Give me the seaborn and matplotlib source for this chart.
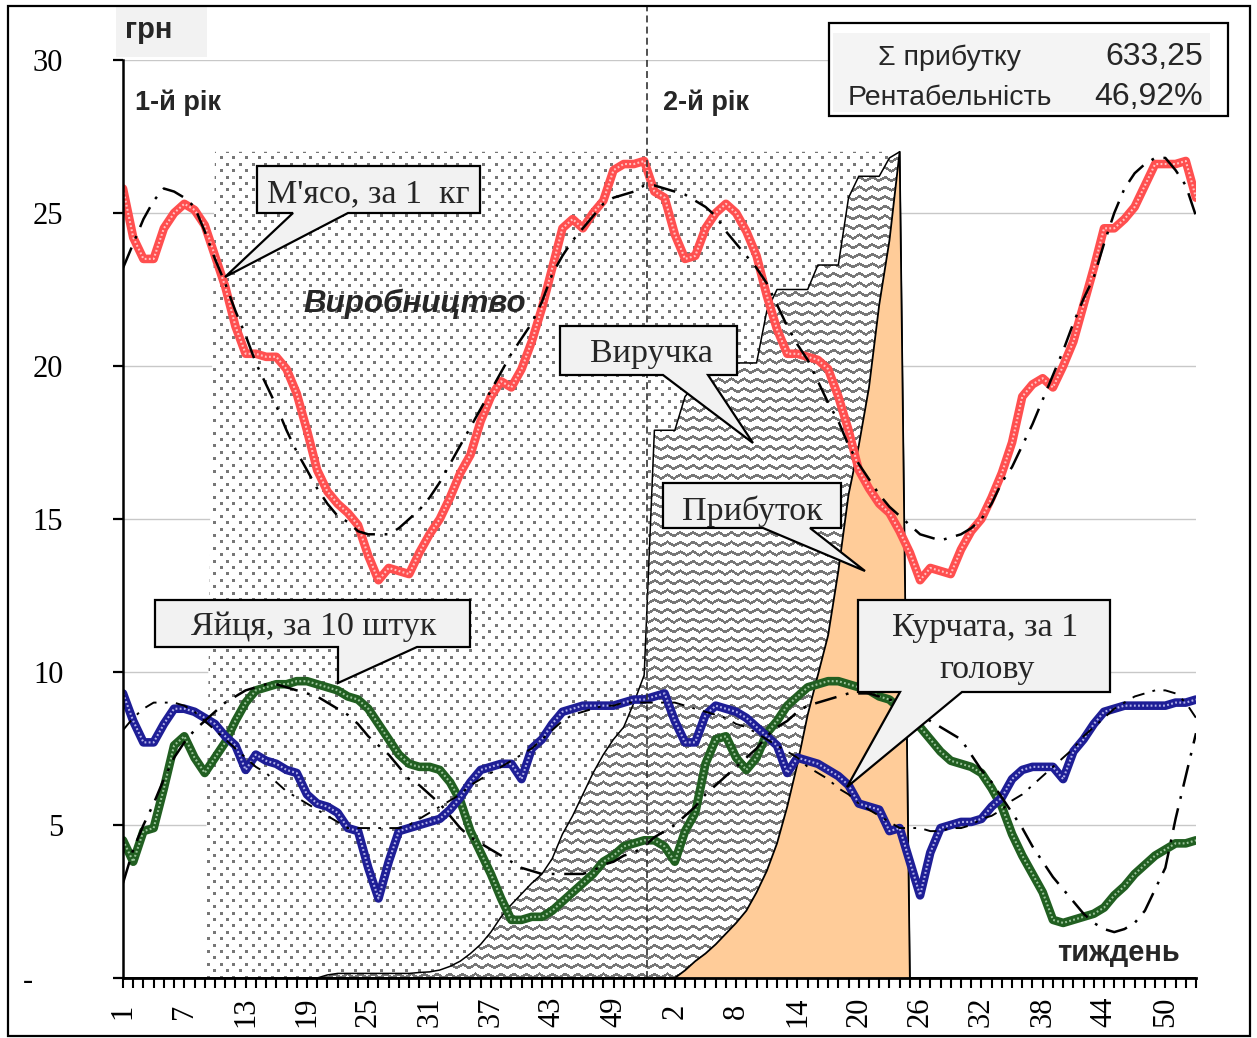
import numpy as np
import matplotlib
matplotlib.use("Agg")
import matplotlib.pyplot as plt
import seaborn as sns
from matplotlib.patches import Polygon, Rectangle
from matplotlib.transforms import Affine2D

# ---------------- data ----------------
week_labels = [1, 2, 3, 4, 5, 6, 7, 8, 9, 10, 11, 12, 13, 14, 15, 16, 17, 18, 19, 20,
               21, 22, 23, 24, 25, 26, 27, 28, 29, 30, 31, 32, 33, 34, 35, 36, 37, 38, 39, 40,
               41, 42, 43, 44, 45, 46, 47, 48, 49, 50, 51, 52, 53,
               1, 2, 3, 4, 5, 6, 7, 8, 9, 10, 11, 12, 13, 14, 15, 16, 17, 18, 19, 20,
               21, 22, 23, 24, 25, 26, 27, 28, 29, 30, 31, 32, 33, 34, 35, 36, 37, 38, 39, 40,
               41, 42, 43, 44, 45, 46, 47, 48, 49, 50, 51, 52, 53]

meat = [25.8, 24.2, 23.5, 23.5, 24.5, 25.0, 25.3, 25.1, 24.6, 23.6, 22.6, 21.3, 20.4, 20.4, 20.3, 20.3,
        19.9, 19.1, 17.9, 16.6, 15.9, 15.5, 15.2, 14.8, 13.8, 13.0, 13.4, 13.3, 13.2, 13.9, 14.5, 15.0,
        15.7, 16.5, 17.1, 18.2, 19.0, 19.5, 19.3, 19.9, 20.8, 21.9, 23.2, 24.5, 24.8, 24.5, 25.0, 25.4,
        26.4, 26.6, 26.6, 26.7, 25.7,
        25.5, 24.3, 23.5, 23.6, 24.5, 25.0, 25.3, 25.0, 24.4, 23.6, 22.3, 21.2, 20.4, 20.4, 20.3, 20.2,
        19.9, 19.0, 17.9, 16.6, 16.0, 15.5, 15.2, 14.6, 13.9, 13.0, 13.4, 13.3, 13.2, 14.0, 14.6, 15.0,
        15.7, 16.5, 17.5, 19.0, 19.4, 19.6, 19.3, 20.0, 20.8, 22.0, 23.2, 24.5, 24.5, 24.8, 25.2, 25.9,
        26.6, 26.6, 26.6, 26.7, 25.5]

meat_trend = [23.2, 24.0, 24.8, 25.4, 25.8, 25.7, 25.5, 25.2, 24.4, 23.5, 22.7, 21.8, 21.0, 20.1, 19.4, 18.7,
              17.9, 17.2, 16.6, 16.0, 15.5, 15.1, 14.9, 14.6, 14.5, 14.5, 14.5, 14.7, 15.0, 15.3, 15.7, 16.2,
              16.8, 17.4, 18.0, 18.6, 19.2, 19.8, 20.4, 20.9, 21.4, 22.1, 23.0, 23.6, 24.1, 24.5, 24.9, 25.3,
              25.5, 25.6, 25.7, 25.9, 25.9,
              25.8, 25.7, 25.6, 25.4, 25.2, 24.9, 24.4, 24.0, 23.6, 23.2, 22.7, 22.0, 21.3, 20.7, 20.2, 19.5,
              18.8, 18.2, 17.4, 16.8, 16.3, 15.8, 15.4, 15.1, 14.8, 14.5, 14.4, 14.3, 14.4, 14.5, 14.7, 15.0,
              15.5, 16.2, 16.7, 17.4, 18.1, 18.9, 19.7, 20.5, 21.4, 22.2, 22.9, 24.0, 25.0, 25.8, 26.3, 26.6,
              26.8, 26.8, 26.4, 25.9, 24.9]

eggs = [4.5, 3.8, 4.8, 4.9, 6.2, 7.6, 7.9, 7.2, 6.7, 7.2, 7.7, 8.4, 9.0, 9.4, 9.5, 9.6,
        9.6, 9.7, 9.7, 9.6, 9.5, 9.4, 9.2, 9.1, 8.8, 8.3, 7.8, 7.3, 7.0, 6.9, 6.9, 6.8,
        6.4, 5.8, 4.8, 4.1, 3.4, 2.6, 1.9, 1.9, 2.0, 2.0, 2.2, 2.5, 2.8, 3.1, 3.4, 3.8,
        4.0, 4.3, 4.4, 4.5, 4.5,
        4.3, 3.8, 4.8, 5.4, 7.0, 7.8, 7.9, 7.2, 6.8, 7.2, 8.0, 8.4, 8.9, 9.2, 9.5, 9.6,
        9.7, 9.7, 9.6, 9.5, 9.4, 9.2, 9.1, 8.8, 8.4, 8.2, 7.8, 7.4, 7.1, 7.0, 6.9, 6.7,
        6.2, 5.6, 4.7, 4.0, 3.4, 2.8, 1.9, 1.8, 1.9, 2.0, 2.1, 2.3, 2.7, 3.0, 3.4, 3.7,
        4.0, 4.2, 4.4, 4.4, 4.5]

eggs_trend = [3.1, 4.2, 5.0, 5.7, 6.5, 7.2, 7.7, 8.1, 8.4, 8.7, 9.0, 9.2, 9.4, 9.5, 9.6, 9.6,
              9.5, 9.4, 9.3, 9.2, 9.0, 8.8, 8.6, 8.3, 7.9, 7.6, 7.3, 6.9, 6.5, 6.3, 6.0, 5.7,
              5.3, 4.9, 4.6, 4.4, 4.2, 4.0, 3.8, 3.6, 3.5, 3.4, 3.4, 3.4, 3.4, 3.4, 3.5, 3.7,
              3.8, 4.0, 4.1, 4.3, 4.6,
              4.8, 5.0, 5.3, 5.6, 6.0, 6.3, 6.6, 6.9, 7.2, 7.5, 7.9, 8.2, 8.4, 8.7, 8.9, 9.0,
              9.1, 9.2, 9.3, 9.3, 9.3, 9.2, 9.1, 9.0, 8.8, 8.6, 8.4, 8.2, 8.0, 7.8, 7.3, 6.8,
              6.4, 5.9, 5.4, 4.9, 4.3, 3.8, 3.3, 2.9, 2.5, 2.1, 1.8, 1.6, 1.5, 1.6, 1.8, 2.2,
              2.9, 3.6, 5.2, 6.6, 8.0]

chicks = [9.3, 8.4, 7.7, 7.7, 8.3, 8.8, 8.8, 8.7, 8.5, 8.3, 7.9, 7.6, 6.8, 7.3, 7.1, 7.0,
          6.8, 6.7, 6.0, 5.7, 5.6, 5.4, 4.9, 4.8, 3.6, 2.6, 3.8, 4.8, 4.9, 5.0, 5.1, 5.2,
          5.5, 5.9, 6.4, 6.8, 6.9, 7.0, 7.0, 6.5, 7.5, 7.8, 8.3, 8.7, 8.8, 8.9, 8.9, 8.9,
          8.9, 9.0, 9.1, 9.1, 9.2,
          9.3, 8.4, 7.7, 7.7, 8.6, 8.9, 8.8, 8.7, 8.5, 8.2, 7.9, 7.6, 6.7, 7.2, 7.1, 7.0,
          6.8, 6.6, 6.3, 5.7, 5.6, 5.5, 4.8, 4.9, 3.8, 2.7, 4.1, 4.9, 5.0, 5.1, 5.1, 5.2,
          5.6, 5.9, 6.5, 6.8, 6.9, 6.9, 6.9, 6.5, 7.4, 7.8, 8.3, 8.7, 8.8, 8.9, 8.9, 8.9,
          8.9, 8.9, 9.0, 9.0, 9.1]

chicks_trend = [8.1, 8.5, 8.8, 9.0, 9.0, 9.0, 8.9, 8.7, 8.4, 8.1, 7.8, 7.5, 7.2, 6.9, 6.7, 6.4,
                6.1, 5.9, 5.7, 5.5, 5.3, 5.1, 4.9, 4.9, 4.9, 4.9, 4.9, 4.9, 5.0, 5.2, 5.4, 5.6,
                5.8, 6.0, 6.3, 6.5, 6.7, 6.9, 7.1, 7.3, 7.5, 7.8, 8.1, 8.4, 8.6, 8.7, 8.8, 8.9,
                8.9, 9.0, 9.0, 9.0, 9.0,
                9.0, 9.0, 8.9, 8.8, 8.7, 8.6, 8.5, 8.3, 8.2, 8.0, 7.8, 7.6, 7.4, 7.2, 6.9, 6.7,
                6.5, 6.2, 6.0, 5.7, 5.5, 5.3, 5.1, 4.9, 4.9, 4.9, 4.8, 4.8, 4.9, 4.9, 5.0, 5.2,
                5.3, 5.5, 5.8, 6.0, 6.3, 6.6, 6.9, 7.2, 7.5, 7.9, 8.2, 8.5, 8.8, 9.0, 9.2, 9.3,
                9.4, 9.4, 9.3, 9.0, 8.5]

production = [0, 0, 0, 0, 0, 0, 0, 0, 0, 27, 27, 27, 27, 27, 27, 27,
              27, 27, 27, 27, 27, 27, 27, 27, 27, 27, 27, 27, 27, 27, 27, 27,
              27, 27, 27, 27, 27, 27, 27, 27, 27, 27, 27, 27, 27, 27, 27, 27,
              27, 27, 27, 27, 27,
              27, 27, 27, 27, 27, 27, 27, 27, 27, 27, 27, 27, 27, 27, 27, 27,
              27, 27, 27, 27, 27, 27, 27, 0, 0, 0, 0, 0, 0, 0, 0, 0,
              0, 0, 0, 0, 0, 0, 0, 0, 0, 0, 0, 0, 0, 0, 0, 0,
              0, 0, 0, 0, 0]

revenue = [0, 0, 0, 0, 0, 0, 0, 0, 0, 0, 0, 0, 0, 0, 0, 0,
           0, 0, 0, 0.0, 0.1, 0.15, 0.15, 0.15, 0.15, 0.15, 0.15, 0.15, 0.15, 0.18, 0.2, 0.26,
           0.38, 0.55, 0.8, 1.1, 1.5, 2.0, 2.4, 2.75, 3.1, 3.4, 3.9, 4.7, 5.3, 6.0, 6.7, 7.3,
           7.8, 8.2, 9.0, 9.9, 17.9,
           17.9, 17.9, 19.0, 19.4, 19.6, 19.8, 20.0, 20.1, 20.1, 20.1, 21.8, 22.5, 22.5, 22.5, 22.5, 23.3,
           23.3, 23.3, 25.5, 26.2, 26.2, 26.2, 26.8, 27.0, 0, 0, 0, 0, 0, 0, 0, 0,
           0, 0, 0, 0, 0, 0, 0, 0, 0, 0, 0, 0, 0, 0, 0, 0,
           0, 0, 0, 0, 0]

profit = [0, 0, 0, 0, 0, 0, 0, 0, 0, 0, 0, 0, 0, 0, 0, 0,
          0, 0, 0, 0, 0, 0, 0, 0, 0, 0, 0, 0, 0, 0, 0, 0,
          0, 0, 0, 0, 0, 0, 0, 0, 0, 0, 0, 0, 0, 0, 0, 0,
          0, 0, 0, 0, 0,
          0, 0.0, 0.25, 0.55, 0.8, 1.1, 1.45, 1.8, 2.2, 2.8, 3.5, 4.4, 5.6, 7.0, 8.6, 9.9,
          11.2, 13.3, 15.8, 17.4, 19.3, 22.0, 24.1, 27.0, 0, 0, 0, 0, 0, 0, 0, 0,
          0, 0, 0, 0, 0, 0, 0, 0, 0, 0, 0, 0, 0, 0, 0, 0,
          0, 0, 0, 0, 0]

year_split = 51.3
y_ticks = [0, 5, 10, 15, 20, 25, 30]
y_ticklabels = ["-    ", "5", "10", "15", "20", "25", "30"]
profit_sum = "633,25"
profitability = "46,92%"

idx = np.arange(len(meat))

# ---------------- style ----------------
sns.set_style("white")
plt.rcParams['font.family'] = ['Liberation Serif', 'DejaVu Serif']
plt.rcParams['lines.scale_dashes'] = False
SANS = ['Liberation Sans', 'DejaVu Sans']

W, H = 1257, 1038
AX_L, AX_R, AX_T, AX_B = 123, 1196, 60, 978
fig = plt.figure(figsize=(W / 100, H / 100), dpi=100)
fig.patch.set_facecolor('white')
ax = fig.add_axes([AX_L / W, (H - AX_B) / H, (AX_R - AX_L) / W, (AX_B - AX_T) / H])
tr = Affine2D().scale(1, -1).translate(0, H)   # figure pixels, top-left origin

XMAX = len(meat) - 1
ax.set_xlim(0, XMAX)
ax.set_ylim(0, 30)

# ---------------- textures ----------------
th, tw = AX_B - AX_T, AX_R - AX_L
rr, cc = np.mgrid[0:th, 0:tw].astype(float)
row = np.floor(rr / 6.4)
dots = ((rr - row * 6.4) < 3.0) & (((cc - (row % 2) * 6.4) % 12.8) < 3.0)
tex_dots = np.ones((th, tw, 4))
tex_dots[dots, :3] = 0.47
phase = (cc % 12.8) / 12.8
yoff = 3.6 * np.abs(2 * phase - 1)
wave = ((rr - yoff) % 9.6) < 3.0
tex_wave = np.ones((th, tw, 4))
tex_wave[wave, :3] = 0.47

ax.yaxis.grid(True, color='#C8C8C8', lw=1.0)
ax.set_axisbelow(True)

def textured_area(values, tex, z):
    coll = ax.fill_between(idx, 0, values, facecolor='white', edgecolor='none', zorder=z)
    im = ax.imshow(tex, extent=(0, XMAX, 0, 30), origin='upper', interpolation='nearest',
                   aspect='auto', zorder=z + 0.01)
    im.set_clip_path(coll.get_paths()[0], ax.transData)

textured_area(production, tex_dots, 1.0)
textured_area(revenue, tex_wave, 1.1)
ax.plot(idx, revenue, color='black', lw=1.1, zorder=1.2)
ax.fill_between(idx, 0, profit, facecolor='#FFCC99', edgecolor='none', zorder=1.3)
ax.plot(idx, profit, color='black', lw=1.3, zorder=1.35)

# ---------------- series ----------------
def textured_line(values, base, spec, z):
    sns.lineplot(x=idx, y=values, ax=ax, color=base, linewidth=6.2, zorder=z, legend=False)
    ax.plot(idx, values, color=spec, lw=1.5, linestyle=(0, (1.3, 1.7)), zorder=z + 0.01)

textured_line(meat, '#FF4F4F', '#FFC4C4', 3.0)
textured_line(eggs, '#215F21', '#9CC59C', 3.2)
textured_line(chicks, '#1E1E96', '#B4B4EA', 3.4)

sns.lineplot(x=idx, y=meat_trend, ax=ax, color='black', linewidth=1.8,
             linestyle=(0, (16, 7, 2, 7)), zorder=5, legend=False)
sns.lineplot(x=idx, y=eggs_trend, ax=ax, color='black', linewidth=1.8,
             linestyle=(0, (16, 7, 2, 7)), zorder=5, legend=False)
sns.lineplot(x=idx, y=chicks_trend, ax=ax, color='black', linewidth=1.4,
             linestyle=(0, (9, 6, 2, 6)), zorder=5, legend=False)

ax.plot([year_split, year_split], [0, 31.75], color='#333333', lw=1.2,
        linestyle=(0, (5, 3)), zorder=7, clip_on=False)

ax.set_xlim(0, XMAX)
ax.set_ylim(0, 30)
ax.set_xlabel('')
ax.set_ylabel('')

# ---------------- axes ----------------
for s in ['top', 'right']:
    ax.spines[s].set_visible(False)
ax.spines['left'].set_linewidth(1.8)
ax.spines['bottom'].set_linewidth(2.0)
ax.spines['left'].set_color('black')
ax.spines['bottom'].set_color('black')
ax.spines['left'].set_zorder(8)
ax.spines['bottom'].set_zorder(8)

ax.set_yticks(y_ticks)
ax.set_yticklabels(y_ticklabels)
ax.tick_params(axis='y', which='major', direction='out', length=7, width=1.6,
               left=True, labelsize=22, pad=36, colors='black')
major = list(range(0, XMAX + 1, 6))
ax.set_xticks(major)
ax.set_xticklabels([str(week_labels[i]) for i in major])
ax.set_xticks(list(idx), minor=True)
ax.tick_params(axis='x', which='both', direction='out', length=7, width=1.5,
               bottom=True, labelsize=22, pad=17, colors='black')
for lab in ax.get_xticklabels():
    lab.set_rotation(90)
    lab.set_va('center')
    lab.set_ha('center')

# ---------------- decorations (figure pixels) ----------------
def ftext(x, y, s, **kw):
    fig.text(x / W, 1 - y / H, s, **kw)

fig.add_artist(Rectangle((8, 6), 1242, 1030, transform=tr, fill=False,
                         edgecolor='black', lw=1.6, zorder=30))
fig.add_artist(Rectangle((116, 7), 91, 50, transform=tr, facecolor='#F2F2F2',
                         edgecolor='none', zorder=20))
ftext(125, 38, 'грн', family=SANS, fontsize=21, fontweight='bold', va='baseline', zorder=21)
ftext(135, 110, '1-й рік', family=SANS, fontsize=19.5, fontweight='bold', va='baseline', zorder=21)
ftext(663, 110, '2-й рік', family=SANS, fontsize=19.5, fontweight='bold', va='baseline', zorder=21)
ftext(303, 312, 'Виробництво', family=SANS, fontsize=22.5, fontweight='bold', style='italic',
      va='baseline', zorder=21)
ftext(1057, 961, 'тиждень', family=SANS, fontsize=21, fontweight='bold', va='baseline', zorder=21)

# info box
fig.add_artist(Rectangle((829, 23), 399, 93, transform=tr, facecolor='white',
                         edgecolor='black', lw=1.6, zorder=20))
fig.add_artist(Rectangle((833, 33), 377, 79, transform=tr, facecolor='#F4F4F4',
                         edgecolor='none', zorder=20.5))
ftext(950, 65, 'Σ прибутку', family=SANS, fontsize=20.5, ha='center', va='baseline', zorder=21)
ftext(950, 105, 'Рентабельність', family=SANS, fontsize=20.5, ha='center', va='baseline', zorder=21)
ftext(1203, 65, profit_sum, family=SANS, fontsize=23, ha='right', va='baseline', zorder=21)
ftext(1203, 105, profitability, family=SANS, fontsize=23, ha='right', va='baseline', zorder=21)

def callout(box, base, tip, lines):
    x0, y0, x1, y1 = box
    verts = [(x0, y0), (x1, y0), (x1, y1), (base[1], y1), tip, (base[0], y1), (x0, y1)]
    fig.add_artist(Polygon(verts, closed=True, facecolor='#F2F2F2', edgecolor='black',
                           lw=1.6, transform=tr, zorder=22, joinstyle='miter'))
    for (tx, ty, s) in lines:
        ftext(tx, ty, s, fontsize=24.5, ha='center', va='baseline', zorder=23)

callout((257, 166, 480, 213), (293, 348), (225, 277), [(368, 202, "М'ясо, за 1  кг")])
callout((560, 326, 737, 375), (663, 708), (753, 443), [(651, 362, 'Виручка')])
callout((663, 483, 841, 528), (763, 810), (865, 571), [(752, 520, 'Прибуток')])
callout((155, 600, 470, 647), (338, 417), (338, 683), [(314, 635, 'Яйця, за 10 штук')])
callout((858, 600, 1110, 692), (900, 962), (847, 787),
        [(985, 636, 'Курчата, за 1'), (987, 678, 'голову')])

fig.savefig('out.png', dpi=100)
